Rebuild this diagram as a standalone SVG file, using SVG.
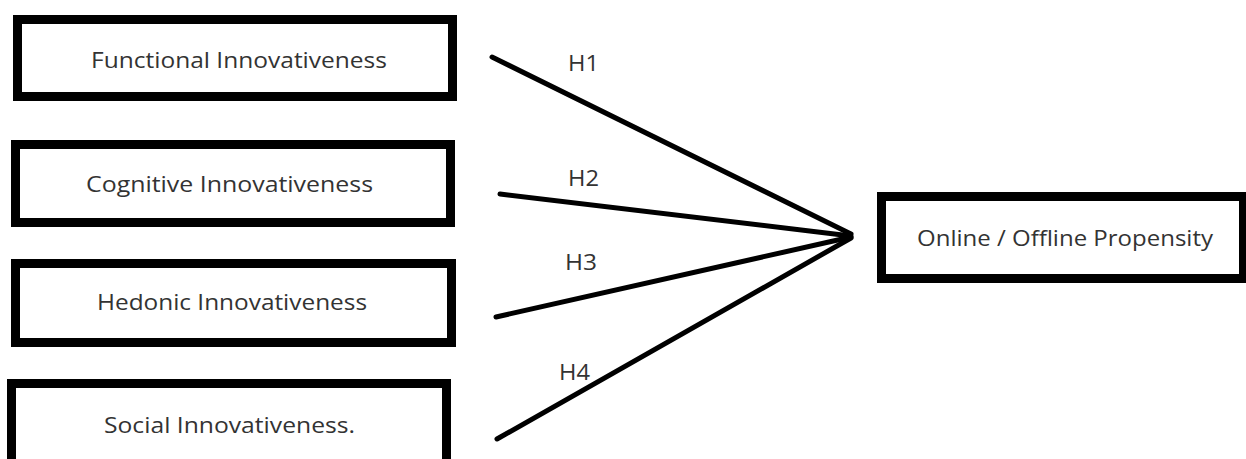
<svg xmlns="http://www.w3.org/2000/svg" width="1246" height="459" viewBox="0 0 1246 459">
  <style>
    .box { fill: #ffffff; stroke: #000000; stroke-width: 9; }
    .label { font-family: "Open Sans", "Liberation Sans", sans-serif; font-size: 21px; fill: #333333; }
    .hyp { font-family: "Open Sans", "Liberation Sans", sans-serif; font-size: 21px; fill: #333333; }
    .link { stroke: #000000; stroke-width: 5; stroke-linecap: round; fill: none; }
  </style>
  <rect width="1246" height="459" fill="#ffffff"/>

  <g id="functional">
    <rect class="box" x="17.5" y="19.5" width="435" height="77"/>
    <text class="label" x="91" y="68" textLength="296" lengthAdjust="spacingAndGlyphs">Functional Innovativeness</text>
  </g>

  <g id="cognitive">
    <rect class="box" x="15.5" y="144.5" width="435" height="78"/>
    <text class="label" x="86" y="192" textLength="287" lengthAdjust="spacingAndGlyphs">Cognitive Innovativeness</text>
  </g>

  <g id="hedonic">
    <rect class="box" x="15.5" y="263.5" width="436" height="79"/>
    <text class="label" x="97" y="310" textLength="270" lengthAdjust="spacingAndGlyphs">Hedonic Innovativeness</text>
  </g>

  <g id="social">
    <rect class="box" x="11.5" y="383.5" width="435" height="85"/>
    <text class="label" x="104" y="433" textLength="251" lengthAdjust="spacingAndGlyphs">Social Innovativeness.</text>
  </g>

  <g id="propensity">
    <rect class="box" x="881.5" y="196.5" width="362" height="82"/>
    <text class="label" x="917" y="246" textLength="296" lengthAdjust="spacingAndGlyphs">Online / Offline Propensity</text>
  </g>

  <g id="connectors">
    <line class="link" x1="492" y1="57" x2="851" y2="234"/>
    <line class="link" x1="500" y1="194" x2="851" y2="236"/>
    <line class="link" x1="496" y1="317" x2="851" y2="237"/>
    <line class="link" x1="497" y1="439" x2="851" y2="238"/>
    <text class="hyp" x="568" y="71" textLength="31" lengthAdjust="spacingAndGlyphs">H1</text>
    <text class="hyp" x="568" y="186" textLength="31" lengthAdjust="spacingAndGlyphs">H2</text>
    <text class="hyp" x="565" y="270" textLength="32" lengthAdjust="spacingAndGlyphs">H3</text>
    <text class="hyp" x="559" y="380" textLength="31" lengthAdjust="spacingAndGlyphs">H4</text>
  </g>
</svg>
